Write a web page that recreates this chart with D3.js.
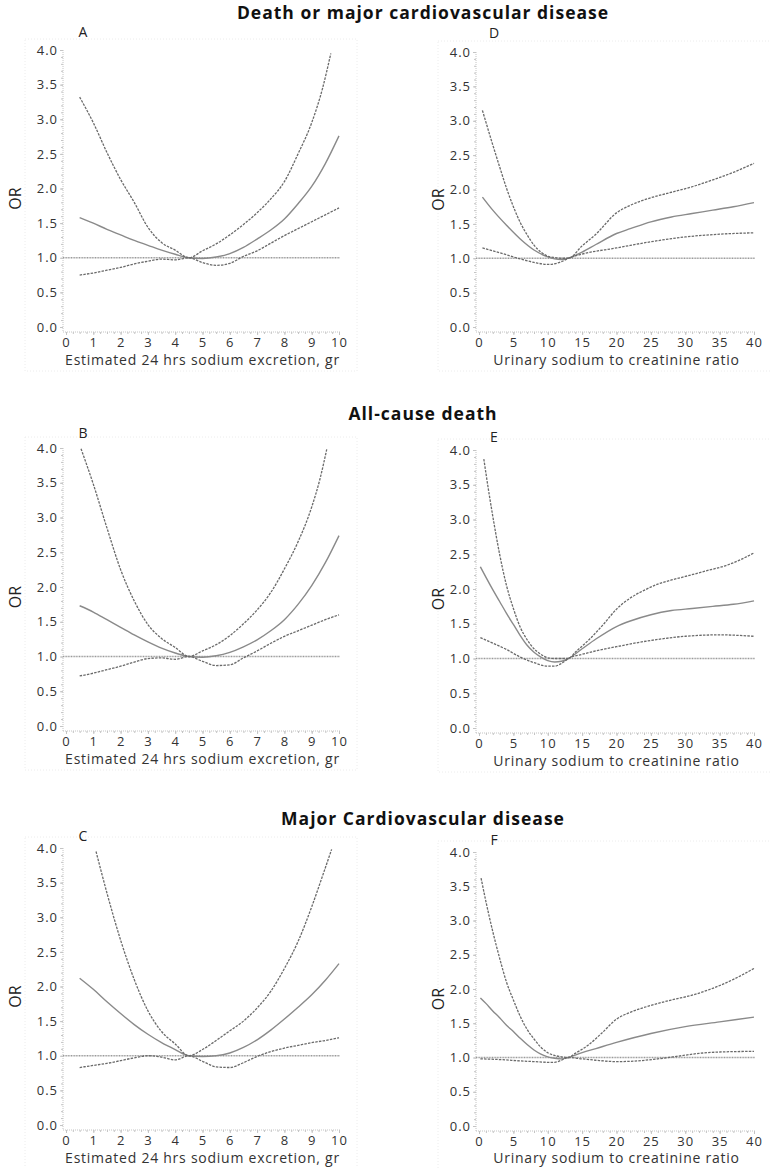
<!DOCTYPE html>
<html>
<head>
<meta charset="utf-8">
<script src="https://cdn.jsdelivr.net/npm/d3@7/dist/d3.min.js"></script>
<style>
  body { margin: 0; background: #fff; }
  text { font-family: "Open Sans", sans-serif; }
</style>
</head>
<body>
<svg id="chart" width="771" height="1168"></svg>
<script>
// ---- data: [x, OR] ----
var groupTitles = ["Death or major cardiovascular disease", "All-cause death", "Major Cardiovascular disease"];
var panelLetters = ["A", "D", "B", "E", "C", "F"];
var sodiumLabel = "Estimated 24 hrs sodium excretion, gr";
var ratioLabel = "Urinary sodium to creatinine ratio";
var sodiumTicks = [0, 1, 2, 3, 4, 5, 6, 7, 8, 9, 10];
var ratioTicks = [0, 5, 10, 15, 20, 25, 30, 35, 40];
var orTicks = [0, 0.5, 1, 1.5, 2, 2.5, 3, 3.5, 4];

// A: death or major CVD vs estimated sodium
var estA = [[0.5,1.58],[1,1.50],[1.5,1.41],[2,1.33],[2.5,1.25],[3,1.18],[3.5,1.11],[4,1.05],[4.5,1.0],[5,0.99],[5.5,1.01],[6,1.06],[6.5,1.15],[7,1.27],[7.5,1.40],[8,1.56],[8.5,1.78],[9,2.03],[9.5,2.36],[10,2.76]];
var upA = [[0.5,3.32],[1,2.95],[1.5,2.52],[2,2.13],[2.5,1.80],[3,1.44],[3.5,1.22],[4,1.11],[4.5,1.0],[5,1.10],[5.5,1.20],[6,1.33],[6.5,1.48],[7,1.65],[7.5,1.85],[8,2.10],[8.5,2.50],[9,2.95],[9.4,3.45],[9.7,3.95]];
var loA = [[0.5,0.75],[1,0.78],[1.5,0.82],[2,0.86],[2.5,0.91],[3,0.95],[3.5,0.98],[4,0.97],[4.5,1.0],[5,0.93],[5.5,0.89],[6,0.92],[6.5,1.02],[7,1.10],[7.5,1.21],[8,1.32],[8.5,1.42],[9,1.52],[9.5,1.62],[10,1.72]];

// D: death or major CVD vs Na/creatinine ratio
var estD = [[0.5,1.89],[2,1.70],[4,1.48],[6,1.28],[8,1.12],[10,1.02],[11,0.99],[12,0.98],[13,1.0],[15,1.09],[17,1.20],[20,1.36],[22,1.43],[25,1.53],[28,1.60],[31,1.65],[34,1.70],[37,1.75],[40,1.81]];
var upD = [[0.5,3.15],[2,2.65],[3,2.33],[4,2.02],[5,1.75],[6,1.52],[7,1.34],[8,1.19],[9,1.09],[10,1.03],[11,1.01],[12,1.0],[13,1.0],[15,1.18],[17,1.35],[20,1.66],[22,1.77],[25,1.88],[28,1.96],[31,2.04],[34,2.14],[37,2.25],[40,2.38]];
var loD = [[0.5,1.15],[3,1.08],[6,0.99],[8,0.94],[10,0.91],[11,0.92],[12,0.95],[13,1.0],[15,1.06],[20,1.15],[25,1.24],[30,1.31],[35,1.35],[40,1.37]];

// B: all-cause death vs estimated sodium
var estB = [[0.5,1.73],[1,1.64],[1.5,1.53],[2,1.42],[2.5,1.31],[3,1.21],[3.5,1.12],[4,1.05],[4.5,1.0],[5,0.99],[5.5,1.01],[6,1.06],[6.5,1.14],[7,1.24],[7.5,1.37],[8,1.53],[8.5,1.75],[9,2.02],[9.5,2.35],[10,2.74]];
var upB = [[0.55,3.99],[1,3.48],[1.5,2.85],[2,2.25],[2.5,1.80],[3,1.46],[3.5,1.26],[4,1.13],[4.5,1.0],[5,1.08],[5.5,1.17],[6,1.30],[6.5,1.47],[7,1.67],[7.5,1.92],[8,2.26],[8.5,2.65],[9,3.15],[9.3,3.55],[9.55,3.98]];
var loB = [[0.5,0.72],[1,0.76],[1.5,0.81],[2,0.86],[2.5,0.92],[3,0.97],[3.5,0.98],[4,0.96],[4.5,1.0],[5,0.93],[5.5,0.87],[6,0.88],[6.5,0.98],[7,1.08],[7.5,1.19],[8,1.29],[8.5,1.37],[9,1.45],[9.5,1.53],[10,1.60]];

// E: all-cause death vs Na/creatinine ratio
var estE = [[0.2,2.32],[1,2.17],[2,1.99],[3,1.82],[4,1.65],[5,1.49],[6,1.33],[7,1.19],[8,1.09],[9,1.02],[10,0.97],[11,0.95],[12,0.96],[13,1.0],[15,1.14],[17,1.28],[20,1.46],[22,1.54],[25,1.63],[28,1.69],[31,1.72],[34,1.75],[37,1.78],[40,1.83]];
var upE = [[0.7,3.87],[1.5,3.35],[2,3.05],[3,2.50],[4,2.05],[5,1.72],[6,1.45],[7,1.27],[8,1.14],[9,1.06],[10,1.01],[11,1.0],[13,1.0],[14,1.09],[16,1.27],[18,1.48],[20,1.71],[22,1.87],[24,1.98],[26,2.07],[28,2.13],[30,2.18],[33,2.26],[36,2.34],[38,2.42],[40,2.52]];
var loE = [[0.2,1.30],[2,1.22],[4,1.13],[6,1.02],[8,0.94],[10,0.89],[11,0.89],[12,0.93],[13,1.0],[15,1.06],[20,1.17],[25,1.26],[30,1.32],[35,1.34],[40,1.32]];

// C: major CVD vs estimated sodium
var estC = [[0.5,2.12],[1,1.96],[1.5,1.78],[2,1.61],[2.5,1.45],[3,1.31],[3.5,1.19],[4,1.09],[4.5,1.0],[5,0.99],[5.5,1.0],[6,1.04],[6.5,1.12],[7,1.23],[7.5,1.37],[8,1.53],[8.5,1.70],[9,1.88],[9.5,2.09],[10,2.33]];
var upC = [[1.1,3.95],[1.5,3.35],[2,2.67],[2.5,2.10],[3,1.65],[3.5,1.35],[4,1.17],[4.5,1.0],[5,1.09],[5.5,1.22],[6,1.36],[6.5,1.50],[7,1.69],[7.5,1.93],[8,2.26],[8.5,2.65],[9,3.15],[9.4,3.60],[9.73,3.98]];
var loC = [[0.5,0.83],[1,0.86],[1.5,0.89],[2,0.93],[2.5,0.97],[3,1.0],[3.5,0.98],[4,0.94],[4.5,1.0],[5,0.92],[5.5,0.84],[6,0.83],[6.5,0.90],[7,0.99],[7.5,1.06],[8,1.11],[8.5,1.15],[9,1.19],[9.5,1.22],[10,1.26]];

// F: major CVD vs Na/creatinine ratio
var estF = [[0.2,1.87],[1,1.79],[2,1.68],[3,1.58],[4,1.47],[5,1.38],[6,1.28],[7,1.19],[8,1.11],[9,1.05],[10,1.01],[11,0.99],[12,0.98],[13,1.0],[15,1.07],[17,1.13],[20,1.22],[25,1.35],[30,1.45],[35,1.52],[40,1.59]];
var upF = [[0.3,3.62],[1,3.28],[2,2.84],[3,2.45],[4,2.10],[5,1.84],[6,1.60],[7,1.41],[8,1.27],[9,1.15],[10,1.07],[11,1.03],[12,1.01],[13,1.0],[14,1.06],[16,1.19],[18,1.37],[20,1.56],[22,1.66],[25,1.76],[28,1.84],[31,1.91],[34,2.01],[37,2.14],[40,2.30]];
var loF = [[0.2,0.98],[3,0.97],[6,0.95],[8,0.94],[10,0.93],[11,0.93],[12,0.96],[13,1.0],[15,0.98],[17,0.96],[20,0.94],[23,0.95],[26,0.98],[29,1.02],[32,1.06],[35,1.08],[40,1.09]];

// ---- layout ----
var svg = d3.select("#chart");

var panels = [
    {est: estA, up: upA, lo: loA, left: 66,  right: 339, top: 50,  bottom: 327, letterY: 37,  kind: "sodium"},
    {est: estD, up: upD, lo: loD, left: 479, right: 754, top: 52,  bottom: 327, letterY: 38,  kind: "ratio"},
    {est: estB, up: upB, lo: loB, left: 66,  right: 339, top: 448, bottom: 726, letterY: 438, kind: "sodium"},
    {est: estE, up: upE, lo: loE, left: 479, right: 754, top: 450, bottom: 728, letterY: 442, kind: "ratio"},
    {est: estC, up: upC, lo: loC, left: 66,  right: 339, top: 848, bottom: 1125, letterY: 841, kind: "sodium"},
    {est: estF, up: upF, lo: loF, left: 479, right: 754, top: 852, bottom: 1126, letterY: 845, kind: "ratio"}
];
var titleY = [19, 420, 825];

groupTitles.forEach(function(t, i) {
    svg.append("text")
        .attr("x", 423)
        .attr("y", titleY[i])
        .attr("text-anchor", "middle")
        .style("font-size", "17.5px")
        .style("font-weight", "bold")
        .style("letter-spacing", "1px")
        .attr("fill", "#111")
        .text(t);
});

var fmt = d3.format(".1f");

panels.forEach(function(p, i) {
    var isRatio = p.kind == "ratio";
    var x = d3.scaleLinear()
        .domain([0, isRatio ? 40 : 10])
        .range([p.left, p.right]);
    var y = d3.scaleLinear()
        .domain([0, 4])
        .range([p.bottom, p.top]);
    var xAxisY = p.bottom + 5;
    var yAxisX = p.left - 3;

    // faint panel frame
    svg.append("rect")
        .attr("x", yAxisX - 38)
        .attr("y", p.top - 11)
        .attr("width", p.right - yAxisX + 56)
        .attr("height", p.bottom - p.top + 55)
        .attr("fill", "none")
        .attr("stroke", "#ececec")
        .attr("stroke-dasharray", "1,2");

    // y axis
    var gy = svg.append("g")
        .attr("transform", "translate(" + yAxisX + ",0)")
        .call(d3.axisLeft(y).tickValues(orTicks).tickFormat(fmt).tickSize(3).tickPadding(2));
    var gyMinor = svg.append("g")
        .attr("transform", "translate(" + yAxisX + ",0)")
        .call(d3.axisLeft(y).tickValues(d3.range(0, 4.01, 0.1)).tickSize(2));
    gyMinor.select(".domain").remove();
    gyMinor.selectAll("text").remove();

    // x axis
    var gx = svg.append("g")
        .attr("transform", "translate(0," + xAxisY + ")")
        .call(d3.axisBottom(x).tickValues(isRatio ? ratioTicks : sodiumTicks).tickSize(3).tickPadding(3));
    var gxMinor = svg.append("g")
        .attr("transform", "translate(0," + xAxisY + ")")
        .call(d3.axisBottom(x).tickValues(isRatio ? d3.range(0, 40.1, 1) : d3.range(0, 10.01, 0.25)).tickSize(2));
    gxMinor.select(".domain").remove();
    gxMinor.selectAll("text").remove();

    gy.select(".domain").attr("d", "M0," + p.top + "V" + xAxisY);
    gx.select(".domain").attr("d", "M" + yAxisX + ",0H" + (p.right + 2));

    svg.selectAll(".domain")
        .attr("stroke", "#c4c4c4")
        .attr("stroke-dasharray", "1,1");
    svg.selectAll(".tick line").attr("stroke", "#c4c4c4");
    [gx, gy].forEach(function(g) {
        g.selectAll("text")
            .style("font-size", "13px")
            .style("letter-spacing", "1px")
            .attr("fill", "#333");
    });

    // axis titles
    svg.append("text")
        .attr("x", (yAxisX + p.right + 3) / 2)
        .attr("y", Math.min(xAxisY + 33, 1163))
        .attr("text-anchor", "middle")
        .style("font-size", "14px")
        .style("letter-spacing", "0.75px")
        .attr("fill", "#333")
        .text(isRatio ? ratioLabel : sodiumLabel);

    var orX = isRatio ? p.left - 35 : p.left - 45;
    svg.append("text")
        .attr("transform", "translate(" + orX + "," + ((p.top + p.bottom) / 2 + 10) + ") rotate(-90)")
        .attr("text-anchor", "middle")
        .style("font-size", "16px")
        .attr("fill", "#222")
        .text("OR");

    // panel letter
    svg.append("text")
        .attr("x", p.left + (isRatio ? 15 : 17))
        .attr("y", p.letterY)
        .attr("text-anchor", "middle")
        .style("font-size", "14px")
        .attr("fill", "#222")
        .text(panelLetters[i]);

    // reference line at OR = 1
    svg.append("line")
        .attr("x1", yAxisX)
        .attr("x2", p.right + 1)
        .attr("y1", y(1))
        .attr("y2", y(1))
        .attr("stroke", "#9a9a9a")
        .attr("stroke-width", 1.6)
        .attr("stroke-dasharray", "1,0.6");

    var line = d3.line()
        .x(function(d) { return x(d[0]); })
        .y(function(d) { return y(d[1]); })
        .curve(d3.curveMonotoneX);

    svg.append("path")
        .datum(p.est)
        .attr("d", line)
        .attr("fill", "none")
        .attr("stroke", "#8a8a8a")
        .attr("stroke-width", 1.4);

    [p.up, p.lo].forEach(function(ci) {
        svg.append("path")
            .datum(ci)
            .attr("d", line)
            .attr("fill", "none")
            .attr("stroke", "#6a6a6a")
            .attr("stroke-width", 1.3)
            .attr("stroke-dasharray", "2.5,1.2");
    });
});
</script>
</body>
</html>
